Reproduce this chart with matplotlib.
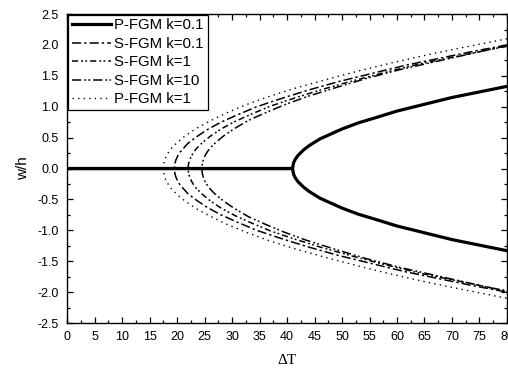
import matplotlib
matplotlib.use("Agg")
import matplotlib.pyplot as plt
from matplotlib.ticker import MultipleLocator

plt.rcParams['font.family'] = ['Liberation Sans', 'DejaVu Sans']

# P-FGM k=0.1 (solid): flat at zero up to buckling, then branches
T_p01 = [0, 41, 41.2, 41.5, 42, 43, 44, 46, 48, 50, 53, 56, 60, 65, 70, 75, 80]
w_p01 = [0, 0, 0.095, 0.15, 0.213, 0.30, 0.37, 0.48, 0.56, 0.64, 0.74, 0.82, 0.93, 1.04, 1.15, 1.24, 1.33]

# S-FGM k=0.1
T_s01 = [19.5, 19.6, 19.8, 20.1, 20.5, 21, 22, 23.5, 25.5, 28, 31, 34.5, 38.5, 43.5, 49.5, 55.5, 61.5, 67.5, 73.5, 80]
w_s01 = [0, 0.08, 0.14, 0.20, 0.26, 0.31, 0.41, 0.51, 0.63, 0.75, 0.87, 1.00, 1.12, 1.26, 1.41, 1.54, 1.67, 1.78, 1.89, 2.00]

# S-FGM k=1
T_s1 = [22, 22.1, 22.3, 22.6, 23, 23.5, 24.5, 26, 28, 30.5, 33.5, 37, 41, 46, 52, 58, 64, 70, 76, 80]
w_s1 = [0, 0.08, 0.14, 0.20, 0.26, 0.32, 0.41, 0.52, 0.64, 0.76, 0.88, 1.01, 1.13, 1.27, 1.42, 1.56, 1.69, 1.80, 1.91, 1.98]

# S-FGM k=10
T_s10 = [24.5, 24.6, 24.8, 25.1, 25.5, 26, 27, 28.5, 30.5, 33, 36, 39.5, 43.5, 48.5, 54.5, 60.5, 66.5, 72.5, 78.5, 80]
w_s10 = [0, 0.08, 0.15, 0.21, 0.27, 0.33, 0.42, 0.53, 0.65, 0.78, 0.90, 1.03, 1.16, 1.30, 1.46, 1.60, 1.72, 1.84, 1.96, 1.98]

# P-FGM k=1
T_p1 = [17.5, 17.6, 17.8, 18.1, 18.5, 19, 20, 21.5, 23.5, 26, 29, 32.5, 36.5, 41.5, 47.5, 53.5, 59.5, 65.5, 71.5, 80]
w_p1 = [0, 0.08, 0.15, 0.21, 0.27, 0.33, 0.42, 0.53, 0.65, 0.77, 0.90, 1.03, 1.16, 1.30, 1.45, 1.59, 1.72, 1.84, 1.95, 2.10]

labels = ["P-FGM k=0.1", "S-FGM k=0.1", "S-FGM k=1", "S-FGM k=10", "P-FGM k=1"]

fig = plt.figure(figsize=(5.08, 3.70), dpi=100)
ax = fig.add_axes([0.132, 0.127, 0.866, 0.835])

def both(T, w):
    x = list(reversed(T)) + list(T)
    y = list(reversed(w)) + [-v for v in w]
    return x, y

x, y = both(T_s01, w_s01)
l2, = ax.plot(x, y, color='black', lw=1.1, ls=(0, (6, 2, 1.5, 2)), label=labels[1])
x, y = both(T_s1, w_s1)
l3, = ax.plot(x, y, color='black', lw=1.1, ls=(0, (4, 2, 1.2, 1.5, 1.2, 2)), label=labels[2])
x, y = both(T_s10, w_s10)
l4, = ax.plot(x, y, color='black', lw=1.1, ls=(0, (6, 2, 1.2, 1.5, 1.2, 2)), label=labels[3])
x, y = both(T_p1, w_p1)
l5, = ax.plot(x, y, color='black', lw=1.0, ls=(0, (1, 3)), label=labels[4])

l1, = ax.plot(T_p01, w_p01, color='black', lw=2.3, label=labels[0])
ax.plot(T_p01, [-v for v in w_p01], color='black', lw=2.3)

ax.set_xlim(0, 80)
ax.set_ylim(-2.5, 2.5)
ax.xaxis.set_major_locator(MultipleLocator(5))
ax.xaxis.set_minor_locator(MultipleLocator(2.5))
ax.yaxis.set_major_locator(MultipleLocator(0.5))
ax.yaxis.set_minor_locator(MultipleLocator(0.25))
ax.yaxis.set_major_formatter(matplotlib.ticker.FormatStrFormatter('%.1f'))
ax.tick_params(which='both', direction='in', top=True, right=True, labelsize=9, width=0.9)
ax.tick_params(which='major', length=4)
ax.tick_params(which='minor', length=2)
ax.tick_params(axis='x', which='major', pad=6)
ax.tick_params(axis='y', which='major', pad=6)
for s in ax.spines.values():
    s.set_linewidth(1.0)

ax.set_ylabel("w/h", fontsize=11)
ax.yaxis.set_label_coords(-0.085, 0.5)
ax.set_xlabel("ΔT", fontsize=11, family=['Liberation Serif', 'DejaVu Serif'])
ax.xaxis.set_label_coords(0.5, -0.10)

leg = ax.legend(handles=[l1, l2, l3, l4, l5], loc='upper left', bbox_to_anchor=(0.002, 0.998),
                fontsize=10.8, frameon=True, fancybox=False, edgecolor='black', framealpha=1,
                handlelength=2.6, handletextpad=0.25, labelspacing=0.3, borderpad=0.25, borderaxespad=0)
leg.get_frame().set_linewidth(0.9)

fig.savefig("out.png", dpi=100)
